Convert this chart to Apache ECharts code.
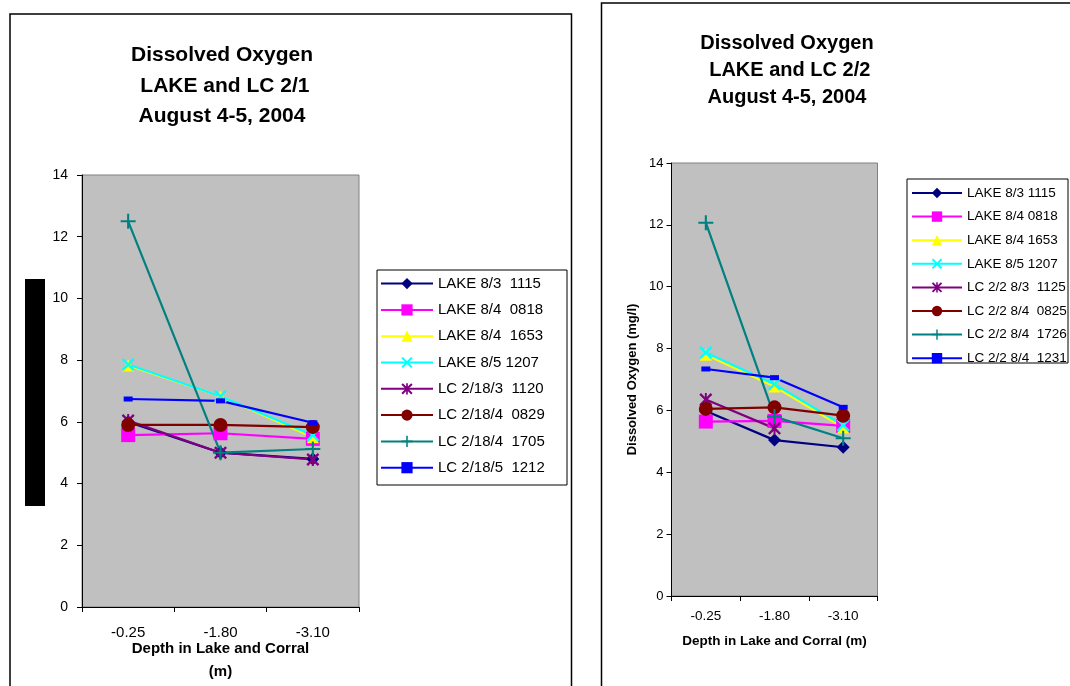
<!DOCTYPE html>
<html><head><meta charset="utf-8">
<script src="https://cdn.jsdelivr.net/npm/echarts@6/dist/echarts.min.js"></script>
<style>html,body{margin:0;padding:0;background:#fff}#c{width:1070px;height:686px}</style>
</head><body><div id="c"></div>
<script>
// ---- data ----
const depths = ['-0.25', '-1.80', '-3.10'];
const yTicks = [0, 2, 4, 6, 8, 10, 12, 14];

// Panel 1: LAKE and LC 2/1
const names1 = ['LAKE 8/3  1115', 'LAKE 8/4  0818', 'LAKE 8/4  1653', 'LAKE 8/5 1207',
                'LC 2/18/3  1120', 'LC 2/18/4  0829', 'LC 2/18/4  1705', 'LC 2/18/5  1212'];
const p1Lake83   = [6.0, 5.0, 4.8];
const p1Lake84a  = [5.57, 5.63, 5.45];
const p1Lake84b  = [7.83, 6.83, 5.5];
const p1Lake85   = [7.86, 6.83, 5.57];
const p1Lc183    = [6.04, 5.0, 4.78];
const p1Lc184a   = [5.9, 5.9, 5.83];
const p1Lc184b   = [12.5, 5.0, 5.12];
const p1Lc185    = [6.74, 6.68, 5.97];

// Panel 2: LAKE and LC 2/2
const names2 = ['LAKE 8/3 1115', 'LAKE 8/4 0818', 'LAKE 8/4 1653', 'LAKE 8/5 1207',
                'LC 2/2 8/3  1125', 'LC 2/2 8/4  0825', 'LC 2/2 8/4  1726', 'LC 2/2 8/4  1231'];
const p2Lake83   = [5.98, 5.04, 4.81];
const p2Lake84a  = [5.64, 5.66, 5.5];
const p2Lake84b  = [7.8, 6.77, 5.45];
const p2Lake85   = [7.87, 6.85, 5.52];
const p2Lc283    = [6.35, 5.42, null];
const p2Lc284a   = [6.05, 6.1, 5.83];
const p2Lc284b   = [12.07, 5.8, 5.1];
const p2Lc284c   = [7.34, 7.06, 6.1];

// ---- styles ----
const X_PATH = 'path://M0,1.3 L1.3,0 L5,3.7 L8.7,0 L10,1.3 L6.3,5 L10,8.7 L8.7,10 L5,6.3 L1.3,10 L0,8.7 L3.7,5 Z';
const AST_PATH = 'path://M0,1.3 L1.3,0 L5,3.7 L8.7,0 L10,1.3 L6.3,5 L10,8.7 L8.7,10 L5,6.3 L1.3,10 L0,8.7 L3.7,5 Z M4.25,0 L5.75,0 L5.75,10 L4.25,10 Z';
const PLUS_PATH = 'path://M4.3,0 L5.7,0 L5.7,4.3 L10,4.3 L10,5.7 L5.7,5.7 L5.7,10 L4.3,10 L4.3,5.7 L0,5.7 L0,4.3 L4.3,4.3 Z';
const styles = [
  {color: '#000080', symbol: 'diamond', size: 13},
  {color: '#FF00FF', symbol: 'rect', size: 14},
  {color: '#FFFF00', symbol: 'triangle', size: 12},
  {color: '#00FFFF', symbol: X_PATH, size: 13},
  {color: '#800080', symbol: AST_PATH, size: 13},
  {color: '#800000', symbol: 'circle', size: 14},
  {color: '#008080', symbol: PLUS_PATH, size: 15},
  {color: '#0000FF', symbol: 'rect', size: [9, 5]}
];

const data1 = [p1Lake83, p1Lake84a, p1Lake84b, p1Lake85, p1Lc183, p1Lc184a, p1Lc184b, p1Lc185];
const data2 = [p2Lake83, p2Lake84a, p2Lake84b, p2Lake85, p2Lc283, p2Lc284a, p2Lc284b, p2Lc284c];

function mk(name, data, st, idx) {
  return {
    type: 'line', name: name, data: data, xAxisIndex: idx, yAxisIndex: idx,
    symbol: st.symbol, symbolSize: st.size, showAllSymbol: true,
    lineStyle: {color: st.color, width: 2.2},
    itemStyle: {color: st.color},
    emphasis: {disabled: true}, animation: false, connectNulls: false
  };
}
const series = [];
names1.forEach((n, i) => series.push(mk(n, data1[i], styles[i], 0)));
names2.forEach((n, i) => series.push(mk(n, data2[i], styles[i], 1)));

const FONT = '"Liberation Sans", Arial, sans-serif';
function xAx(idx, fs, margin, name, nameFs, nameGap, lh) {
  return {
    type: 'category', gridIndex: idx, data: depths, boundaryGap: true,
    axisLine: {lineStyle: {color: '#000', width: 1}},
    axisTick: {show: true, length: 5, lineStyle: {color: '#000'}},
    axisLabel: {color: '#000', fontSize: fs, fontFamily: FONT, margin: margin},
    name: name, nameLocation: 'middle', nameGap: nameGap, nameMoveOverlap: false,
    nameTextStyle: {color: '#000', fontSize: nameFs, fontWeight: 'bold', fontFamily: FONT, lineHeight: lh},
    splitLine: {show: false}
  };
}
function yAx(idx, fs, margin, name, nameGap) {
  return {
    type: 'value', gridIndex: idx, min: yTicks[0], max: yTicks[yTicks.length - 1], interval: 2,
    axisLine: {show: true, lineStyle: {color: '#000', width: 1}},
    axisTick: {show: true, length: 5, lineStyle: {color: '#000'}},
    axisLabel: {color: '#000', fontSize: fs, fontFamily: FONT, margin: margin},
    splitLine: {show: false},
    name: name, nameLocation: 'middle', nameGap: nameGap, nameRotate: 90,
    nameTextStyle: {color: '#000', fontSize: 13, fontWeight: 'bold', fontFamily: FONT}
  };
}

const option = {
  animation: false,
  backgroundColor: '#fff',
  title: [
    {text: 'Dissolved Oxygen\n LAKE and LC 2/1\nAugust 4-5, 2004', left: 222, top: 40, padding: 0,
     textAlign: 'center',
     textStyle: {fontSize: 21, fontWeight: 'bold', fontFamily: FONT, color: '#000', lineHeight: 30.5}},
    {text: 'Dissolved Oxygen\n LAKE and LC 2/2\nAugust 4-5, 2004', left: 787, top: 30, padding: 0,
     textAlign: 'center',
     textStyle: {fontSize: 20, fontWeight: 'bold', fontFamily: FONT, color: '#000', lineHeight: 27}}
  ],
  grid: [
    {left: 82, top: 175, width: 277, height: 432, show: true, backgroundColor: '#C0C0C0',
     borderColor: '#808080', borderWidth: 1, containLabel: false, outerBoundsMode: 'none'},
    {left: 671.5, top: 163, width: 206, height: 433, show: true, backgroundColor: '#C0C0C0',
     borderColor: '#808080', borderWidth: 1, containLabel: false, outerBoundsMode: 'none'}
  ],
  xAxis: [
    xAx(0, 15, 18, 'Depth in Lake and Corral\n(m)', 15, 30, 23),
    xAx(1, 13.5, 13, 'Depth in Lake and Corral (m)', 13.5, 37, 16)
  ],
  yAxis: [
    yAx(0, 14, 14, '', 40),
    yAx(1, 13, 8, 'Dissolved Oxygen (mg/l)', 33)
  ],
  legend: [
    {data: names1, orient: 'vertical', left: 380, top: 275.6, padding: 0, itemWidth: 52, itemHeight: 14,
     itemGap: 10.3, selectedMode: false,
     textStyle: {fontSize: 15, fontFamily: FONT, color: '#000', lineHeight: 16}},
    {data: names2, orient: 'vertical', left: 911, top: 186, padding: 0, itemWidth: 50, itemHeight: 13,
     itemGap: 9.6, selectedMode: false,
     textStyle: {fontSize: 13.5, fontFamily: FONT, color: '#000', lineHeight: 14}}
  ],
  graphic: [
    {type: 'rect', shape: {x: 10, y: 14, width: 561.5, height: 700}, style: {fill: 'none', stroke: '#000', lineWidth: 1.5}, z: 1},
    {type: 'rect', shape: {x: 601.5, y: 3, width: 500, height: 700}, style: {fill: 'none', stroke: '#000', lineWidth: 1.5}, z: 1},
    {type: 'rect', shape: {x: 377, y: 270, width: 190, height: 215}, style: {fill: 'none', stroke: '#000', lineWidth: 1}, z: 1},
    {type: 'rect', shape: {x: 907, y: 179, width: 161, height: 184}, style: {fill: 'none', stroke: '#000', lineWidth: 1}, z: 1},
    {type: 'rect', shape: {x: 25, y: 279, width: 20, height: 227}, style: {fill: '#000'}, z: 100}
  ],
  series: series
};

const chart = echarts.init(document.getElementById('c'), null, {renderer: 'canvas'});
chart.setOption(option);
</script></body></html>
